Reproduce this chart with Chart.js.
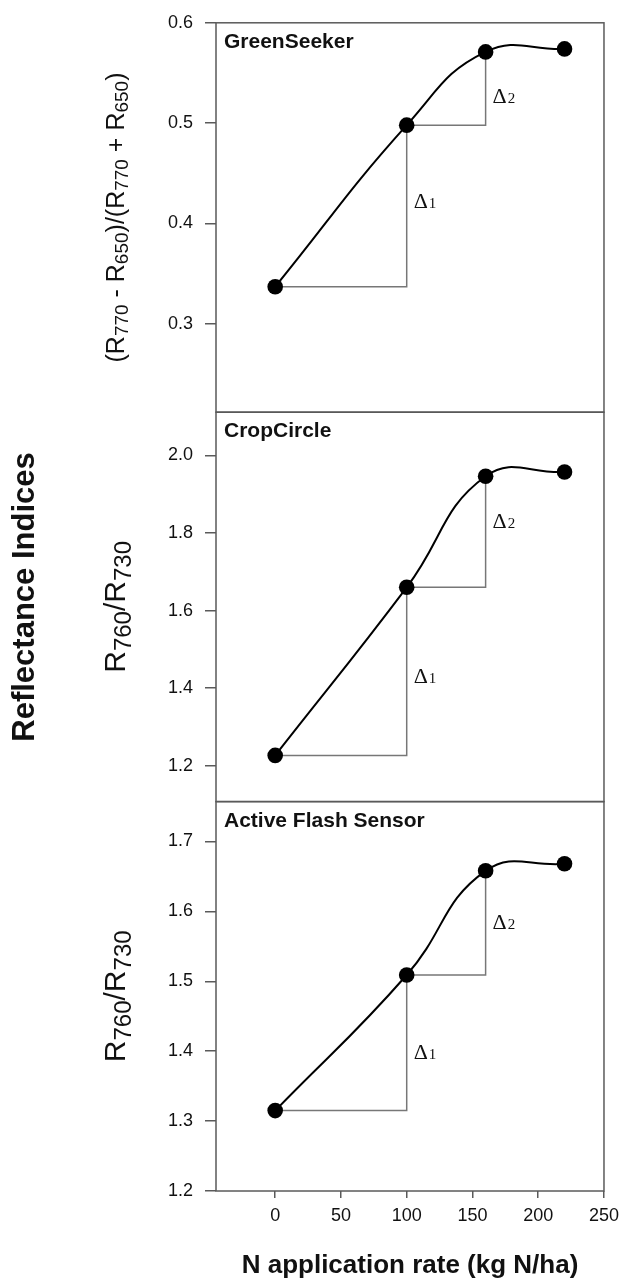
<!DOCTYPE html>
<html>
<head>
<meta charset="utf-8">
<script src="https://cdn.jsdelivr.net/npm/chart.js@4.4.0/dist/chart.umd.min.js"></script>
<style>
html,body{margin:0;padding:0;background:#fff;}
#wrap{position:relative;width:626px;height:1281px;}
canvas{display:block;}
</style>
</head>
<body>
<div id="wrap"><canvas id="c" width="626" height="1281"></canvas></div>
<script>
// ---- data ----
const nRates = [0, 100, 160, 220];
const greenSeeker = [0.337, 0.498, 0.571, 0.574];
const cropCircle = [1.227, 1.660, 1.946, 1.957];
const activeFlash = [1.315, 1.509, 1.658, 1.668];
const panelNames = ['GreenSeeker', 'CropCircle', 'Active Flash Sensor'];
// value (in each panel's y units) where the Δ1 / Δ2 labels sit
const deltaLabelGS = [0.423, 0.528];
const deltaLabelCC = [1.432, 1.832];
const deltaLabelAF = [1.399, 1.585];
const xTicks = [0, 50, 100, 150, 200, 250];
const yTicksGS = [0.3, 0.4, 0.5, 0.6];
const yTicksCC = [1.2, 1.4, 1.6, 1.8, 2.0];
const yTicksAF = [1.2, 1.3, 1.4, 1.5, 1.6, 1.7];
const xTitle = 'N application rate (kg N/ha)';
const commonTitle = 'Reflectance Indices';

const FONT = '"Liberation Sans", Arial, sans-serif';
const SERIF = '"Liberation Serif", "Times New Roman", serif';
const TXT = '#111';
const FRAME = '#5a5a5a';

const panels = [
  {id: 'y1', values: greenSeeker, deltaY: deltaLabelGS, ticks: yTicksGS, min: 0.212, max: 0.6, weight: 3,
   title: [['(R',0],['770',1],[' - R',0],['650',1],[')/(R',0],['770',1],[' + R',0],['650',1],[')',0]],
   tMain: 25, tSub: 19, tShift: 6},
  {id: 'y2', values: cropCircle, deltaY: deltaLabelCC, ticks: yTicksCC, min: 1.108, max: 2.111, weight: 2,
   title: [['R',0],['760',1],['/R',0],['730',1]], tMain: 30, tSub: 24, tShift: 7},
  {id: 'y3', values: activeFlash, deltaY: deltaLabelAF, ticks: yTicksAF, min: 1.2, max: 1.757, weight: 1,
   title: [['R',0],['760',1],['/R',0],['730',1]], tMain: 30, tSub: 24, tShift: 7}
];

const datasets = [];
panels.forEach((p, k) => {
  datasets.push({
    label: panelNames[k],
    yAxisID: p.id,
    data: nRates.map((x, i) => ({x: x, y: p.values[i]})),
    borderColor: '#000',
    borderWidth: 2,
    tension: 0.45,
    pointRadius: 7.8,
    pointBackgroundColor: '#000',
    pointBorderWidth: 0,
    clip: false
  });
});
panels.forEach((p, k) => {
  const v = p.values;
  datasets.push({
    label: 'delta1-' + k, yAxisID: p.id,
    data: [{x: nRates[0], y: v[0]}, {x: nRates[1], y: v[0]}, {x: nRates[1], y: v[1]}],
    borderColor: '#777', borderWidth: 1.5, tension: 0, pointRadius: 0
  });
  datasets.push({
    label: 'delta2-' + k, yAxisID: p.id,
    data: [{x: nRates[1], y: v[1]}, {x: nRates[2], y: v[1]}, {x: nRates[2], y: v[2]}],
    borderColor: '#777', borderWidth: 1.5, tension: 0, pointRadius: 0
  });
});

const scales = {
  x: {
    type: 'linear', position: 'bottom', min: -45, max: 250,
    afterBuildTicks: s => { s.ticks = xTicks.map(v => ({value: v})); },
    afterFit: s => { s.height = 90; },
    ticks: {font: {family: FONT, size: 18}, color: TXT, padding: 7, maxRotation: 0, autoSkip: false,
            callback: v => String(v)},
    grid: {display: true, drawOnChartArea: false, drawTicks: true, tickLength: 7, color: FRAME, lineWidth: 1.5},
    border: {display: false},
    title: {display: true, text: xTitle, font: {family: FONT, size: 26, weight: 'bold'}, color: TXT, padding: 0}
  }
};
panels.forEach(p => {
  scales[p.id] = {
    type: 'linear', position: 'left', stack: 'panels', stackWeight: 1, weight: p.weight,
    min: p.min, max: p.max,
    afterBuildTicks: s => { s.ticks = p.ticks.map(v => ({value: v})); },
    afterFit: s => { s.width = 216; },
    ticks: {font: {family: FONT, size: 18}, color: TXT, padding: 12, callback: v => Number(v).toFixed(1)},
    grid: {display: true, drawOnChartArea: false, drawTicks: true, tickLength: 11, color: FRAME, lineWidth: 1.5},
    border: {display: false}
  };
});

function drawRich(ctx, segs, cx, cy, mainSize, subSize, subShift) {
  ctx.save();
  ctx.translate(cx, cy);
  ctx.rotate(-Math.PI / 2);
  ctx.textBaseline = 'middle';
  ctx.textAlign = 'left';
  let total = 0;
  const widths = segs.map(([t, sub]) => {
    ctx.font = (sub ? subSize : mainSize) + 'px ' + FONT;
    const w = ctx.measureText(t).width; total += w; return w;
  });
  let x = -total / 2;
  segs.forEach(([t, sub], i) => {
    ctx.font = (sub ? subSize : mainSize) + 'px ' + FONT;
    ctx.fillText(t, x, sub ? subShift : 0);
    x += widths[i];
  });
  ctx.restore();
}

const decor = {
  id: 'decor',
  afterDraw(chart) {
    const ctx = chart.ctx;
    const ca = chart.chartArea;
    const xs = chart.scales.x;
    ctx.save();
    // frames
    ctx.strokeStyle = FRAME;
    ctx.lineWidth = 1.5;
    panels.forEach(p => {
      const s = chart.scales[p.id];
      ctx.strokeRect(ca.left, s.top, ca.right - ca.left, s.bottom - s.top);
    });
    ctx.fillStyle = TXT;
    panels.forEach((p, k) => {
      const s = chart.scales[p.id];
      // panel title
      ctx.font = 'bold 21px ' + FONT;
      ctx.textAlign = 'left';
      ctx.textBaseline = 'alphabetic';
      ctx.fillText(panelNames[k], ca.left + 8, s.top + 25);
      // delta labels
      const drawDelta = (xv, yv, n) => {
        const px = xs.getPixelForValue(xv) + 7;
        const py = s.getPixelForValue(yv);
        ctx.textBaseline = 'alphabetic';
        ctx.font = '22px ' + SERIF;
        ctx.fillText('\u0394', px, py + 7.5);
        const w = ctx.measureText('\u0394').width;
        ctx.font = '15px ' + SERIF;
        ctx.fillText(String(n), px + w + 1, py + 7.5);
      };
      drawDelta(nRates[1], p.deltaY[0], 1);
      drawDelta(nRates[2], p.deltaY[1], 2);
      // y title
      drawRich(ctx, p.title, 117, (s.top + s.bottom) / 2, p.tMain, p.tSub, p.tShift);
    });
    // common title
    ctx.save();
    ctx.translate(25, 597);
    ctx.rotate(-Math.PI / 2);
    ctx.font = 'bold 31px ' + FONT;
    ctx.textAlign = 'center';
    ctx.textBaseline = 'middle';
    ctx.fillText(commonTitle, 0, 0);
    ctx.restore();
    ctx.restore();
  }
};

new Chart(document.getElementById('c'), {
  type: 'line',
  data: {datasets: datasets},
  options: {
    responsive: false,
    animation: false,
    devicePixelRatio: 1,
    layout: {padding: {left: 0, right: 18, top: 16, bottom: 0}},
    plugins: {legend: {display: false}, tooltip: {enabled: false}, title: {display: false}},
    scales: scales
  },
  plugins: [decor]
});
</script>
</body>
</html>
